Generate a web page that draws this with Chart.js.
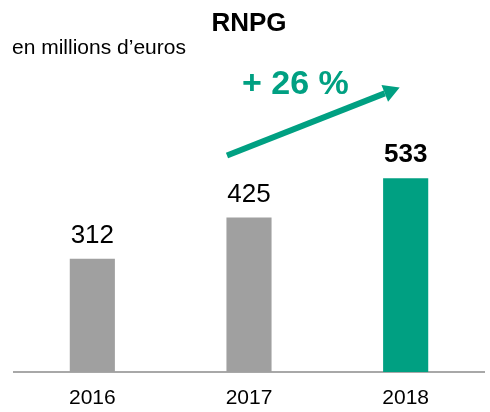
<!DOCTYPE html>
<html>
<head>
<meta charset="utf-8">
<script src="https://cdn.jsdelivr.net/npm/chart.js@4"></script>
<style>
  body { margin: 0; background: #fff; }
  canvas { display: block; }
</style>
</head>
<body>
<canvas id="myChart" width="490" height="412"></canvas>
<script>
const years = ['2016', '2017', '2018'];
const rnpg = [312, 425, 533];
const barColors = ['#a0a0a0', '#a0a0a0', '#00a082'];
const titleText = 'RNPG';
const unitText = 'en millions d\u2019euros';
const growthText = '+ 26 %';

const green = '#00a082';
const fontFamily = '"Liberation Sans", Arial, sans-serif';

// labels, title and growth arrow drawn on top of the bars
const overlay = {
    id: 'overlay',
    afterDatasetsDraw(chart) {
        const ctx = chart.ctx;
        const x = chart.scales.x;
        const y = chart.scales.y;
        const bars = chart.getDatasetMeta(0).data;
        ctx.save();

        // title + unit
        ctx.fillStyle = '#000';
        ctx.textAlign = 'center';
        ctx.textBaseline = 'alphabetic';
        ctx.font = 'bold 26px ' + fontFamily;
        ctx.fillText(titleText, (chart.chartArea.left + chart.chartArea.right) / 2, 31);
        ctx.textAlign = 'left';
        ctx.font = '21px ' + fontFamily;
        ctx.fillText(unitText, 12, 54);

        // value labels
        ctx.textAlign = 'center';
        bars.forEach((bar, i) => {
            const last = i === bars.length - 1;
            ctx.font = (last ? 'bold ' : '') + '26px ' + fontFamily;
            ctx.fillStyle = '#000';
            ctx.fillText(String(rnpg[i]), bar.x, bar.y - 16);
        });

        // growth arrow from 2017 to 2018
        const x0 = bars[1].x - 22;
        const y0 = y.getPixelForValue(596);
        const x1 = bars[2].x - 6;
        const y1 = y.getPixelForValue(783);
        const ang = Math.atan2(y1 - y0, x1 - x0);
        const head = 16;
        const bx = x1 - head * Math.cos(ang);
        const by = y1 - head * Math.sin(ang);
        ctx.strokeStyle = green;
        ctx.lineWidth = 6;
        ctx.beginPath();
        ctx.moveTo(x0, y0);
        ctx.lineTo(bx, by);
        ctx.stroke();
        ctx.fillStyle = green;
        ctx.beginPath();
        ctx.moveTo(x1, y1);
        ctx.lineTo(bx + 9 * Math.sin(ang), by - 9 * Math.cos(ang));
        ctx.lineTo(bx - 9 * Math.sin(ang), by + 9 * Math.cos(ang));
        ctx.closePath();
        ctx.fill();

        ctx.font = 'bold 34px ' + fontFamily;
        ctx.textAlign = 'left';
        ctx.fillText(growthText, bars[1].x - 7, y.getPixelForValue(766));

        ctx.restore();
    }
};

new Chart(document.getElementById('myChart'), {
    type: 'bar',
    data: {
        labels: years,
        datasets: [{
            data: rnpg,
            backgroundColor: barColors,
            borderWidth: 0,
            categoryPercentage: 1,
            barPercentage: 0.288
        }]
    },
    options: {
        responsive: false,
        animation: false,
        layout: { padding: { top: 45, left: 14, right: 6, bottom: 0 } },
        plugins: {
            legend: { display: false },
            tooltip: { enabled: false }
        },
        scales: {
            x: {
                grid: { display: false, drawTicks: false },
                border: { color: '#a8a8a8', width: 2 },
                ticks: {
                    color: '#000',
                    padding: 14,
                    font: { family: fontFamily, size: 21 }
                },
                afterFit(scale) { scale.height = 40; }
            },
            y: {
                display: false,
                min: 0,
                max: 900
            }
        }
    },
    plugins: [overlay]
});
</script>
</body>
</html>
